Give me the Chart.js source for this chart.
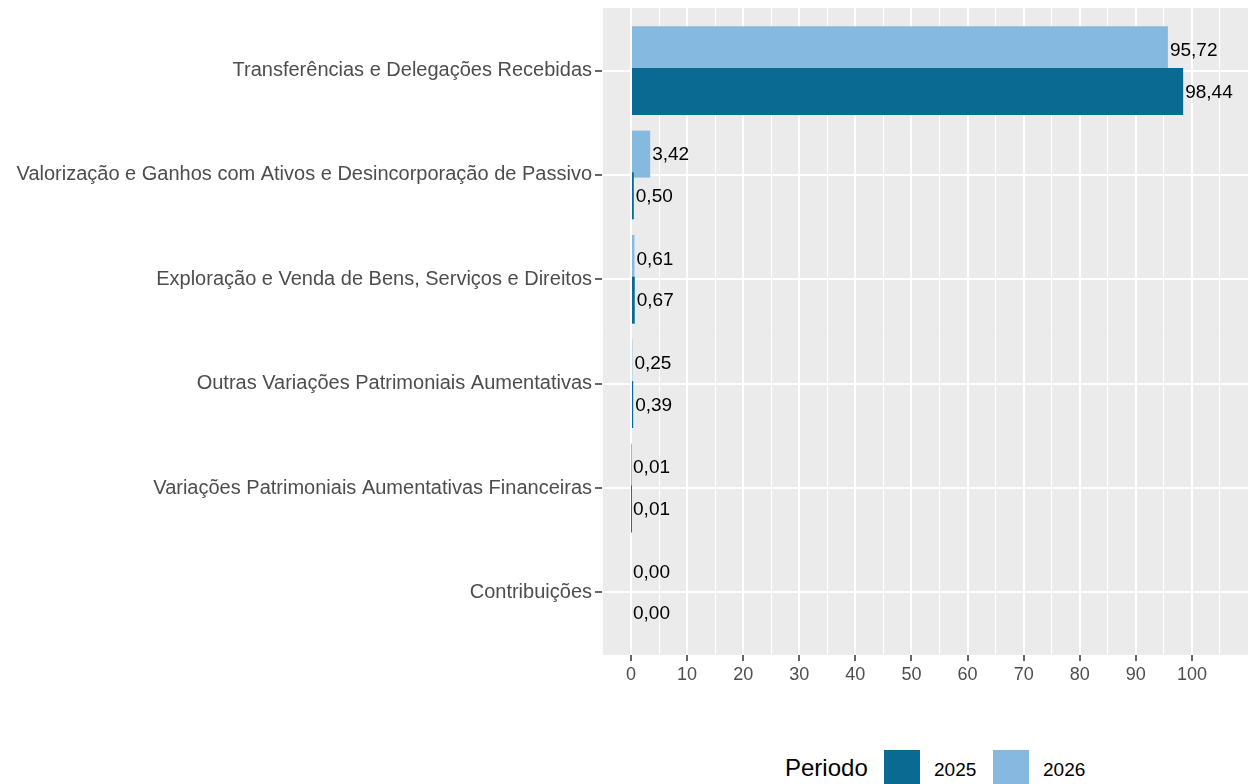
<!DOCTYPE html>
<html lang="pt-BR">
<head>
<meta charset="utf-8">
<title>Variações Patrimoniais Aumentativas</title>
<script src="https://cdn.jsdelivr.net/npm/chart.js@4.4.1/dist/chart.umd.min.js"></script>
<style>
    html, body { margin: 0; padding: 0; background: #fff; }
    body { width: 1248px; height: 784px; position: relative; overflow: hidden; font-family: 'Liberation Sans', Arial, sans-serif; }
    #vpa-chart { position: absolute; left: 0; top: 0; }
    .leg { position: absolute; line-height: 1; white-space: nowrap; }
    .leg-title { font-size: 24px; color: #000; }
    .leg-text { font-size: 19px; color: #000; }
    .leg-key { position: absolute; width: 36px; height: 36px; }
</style>
</head>
<body>
<canvas id="vpa-chart" width="1248" height="700"></canvas>
<div id="legenda"></div>

<script>
// Dados (valores em %)
const categorias = [
    'Transferências e Delegações Recebidas',
    'Valorização e Ganhos com Ativos e Desincorporação de Passivo',
    'Exploração e Venda de Bens, Serviços e Direitos',
    'Outras Variações Patrimoniais Aumentativas',
    'Variações Patrimoniais Aumentativas Financeiras',
    'Contribuições'
];
const valores2025 = [98.44, 0.50, 0.67, 0.39, 0.01, 0.00];
const valores2026 = [95.72, 3.42, 0.61, 0.25, 0.01, 0.00];
const periodos = ['2025', '2026'];
const ticksX = [0, 10, 20, 30, 40, 50, 60, 70, 80, 90, 100];

const COR_2025 = '#0B6A92';
const COR_2026 = '#85B9E0';
const DODGE = 0.2;       // metade da largura de dodge (0.8)
const TXT = '#4D4D4D';
const FONTE = "'Liberation Sans', Arial, sans-serif";

// Fundo cinza do painel
const painelPlugin = {
    id: 'painel',
    beforeDraw(chart) {
        const {ctx, chartArea: a} = chart;
        ctx.save();
        ctx.fillStyle = '#EBEBEB';
        ctx.fillRect(a.left, a.top, a.right - a.left, a.bottom - a.top);
        ctx.restore();
    }
};

// Rótulos de valor ao fim de cada barra
const rotulosPlugin = {
    id: 'rotulos',
    afterDatasetsDraw(chart) {
        const ctx = chart.ctx;
        ctx.save();
        ctx.font = `19px ${FONTE}`;
        ctx.fillStyle = '#000';
        ctx.textAlign = 'left';
        ctx.textBaseline = 'middle';
        chart.data.datasets.forEach((ds, di) => {
            const meta = chart.getDatasetMeta(di);
            meta.data.forEach((bar, i) => {
                const v = ds.data[i].x;
                ctx.fillText(v.toFixed(2).replace('.', ','), bar.x + 2, bar.y + 1);
            });
        });
        ctx.restore();
    }
};

const chart = new Chart(document.getElementById('vpa-chart'), {
    type: 'bar',
    data: {
        datasets: [
            {
                label: '2026',
                data: valores2026.map((v, i) => ({x: v, y: i - DODGE})),
                backgroundColor: COR_2026,
                order: 2,
            },
            {
                label: '2025',
                data: valores2025.map((v, i) => ({x: v, y: i + DODGE})),
                backgroundColor: COR_2025,
                order: 1,
            }
        ]
    },
    options: {
        indexAxis: 'y',
        responsive: false,
        animation: false,
        devicePixelRatio: 1,
        grouped: false,
        categoryPercentage: 1,
        barPercentage: 1.125,
        layout: {padding: {top: 8, right: 0, left: 0, bottom: 0}},
        plugins: {legend: {display: false}, tooltip: {enabled: false}},
        scales: {
            y: {
                type: 'linear',
                reverse: true,
                offset: false,
                min: -0.6,
                max: categorias.length - 0.4,
                afterFit(scale) {
                    scale.width = 602;
                    scale.paddingTop = 0;
                    scale.paddingBottom = 0;
                },
                afterBuildTicks(scale) { scale.ticks = categorias.map((_, i) => ({value: i})); },
                border: {display: false},
                grid: {offset: false, color: '#FFFFFF', lineWidth: 2, tickColor: '#333333', tickWidth: 1.5, tickLength: 7},
                ticks: {
                    color: TXT,
                    font: {family: FONTE, size: 20},
                    padding: 3,
                    autoSkip: false,
                    callback: v => categorias[v]
                }
            },
            x: {
                type: 'linear',
                min: -5.17,
                max: 110,
                afterFit(scale) {
                    scale.height = 45;
                    scale.paddingLeft = 0;
                    scale.paddingRight = 0;
                },
                afterBuildTicks(scale) {
                    const t = [];
                    for (let v = -5; v <= 110; v += 5) t.push({value: v});
                    scale.ticks = t;
                },
                border: {display: false},
                grid: {
                    color: '#FFFFFF',
                    lineWidth: c => (c.tick && ticksX.includes(c.tick.value)) ? 2 : 1,
                    tickColor: c => (c.tick && ticksX.includes(c.tick.value)) ? '#333333' : 'rgba(0,0,0,0)',
                    tickWidth: 1.5,
                    tickLength: 6
                },
                ticks: {
                    color: TXT,
                    font: {family: FONTE, size: 18},
                    padding: 3,
                    autoSkip: false,
                    maxRotation: 0,
                    callback: v => ticksX.includes(v) ? String(v) : ''
                }
            }
        }
    },
    plugins: [painelPlugin, rotulosPlugin]
});

// Legenda no estilo ggplot (abaixo do gráfico)
const legenda = document.getElementById('legenda');
legenda.innerHTML = `
  <span class="leg leg-title" style="left:785px;top:756px">Periodo</span>
  <span class="leg-key" style="left:884px;top:750px;background:${COR_2025}"></span>
  <span class="leg leg-text" style="left:934px;top:760px">${periodos[0]}</span>
  <span class="leg-key" style="left:993px;top:750px;background:${COR_2026}"></span>
  <span class="leg leg-text" style="left:1043px;top:760px">${periodos[1]}</span>`;
</script>
</body>
</html>
